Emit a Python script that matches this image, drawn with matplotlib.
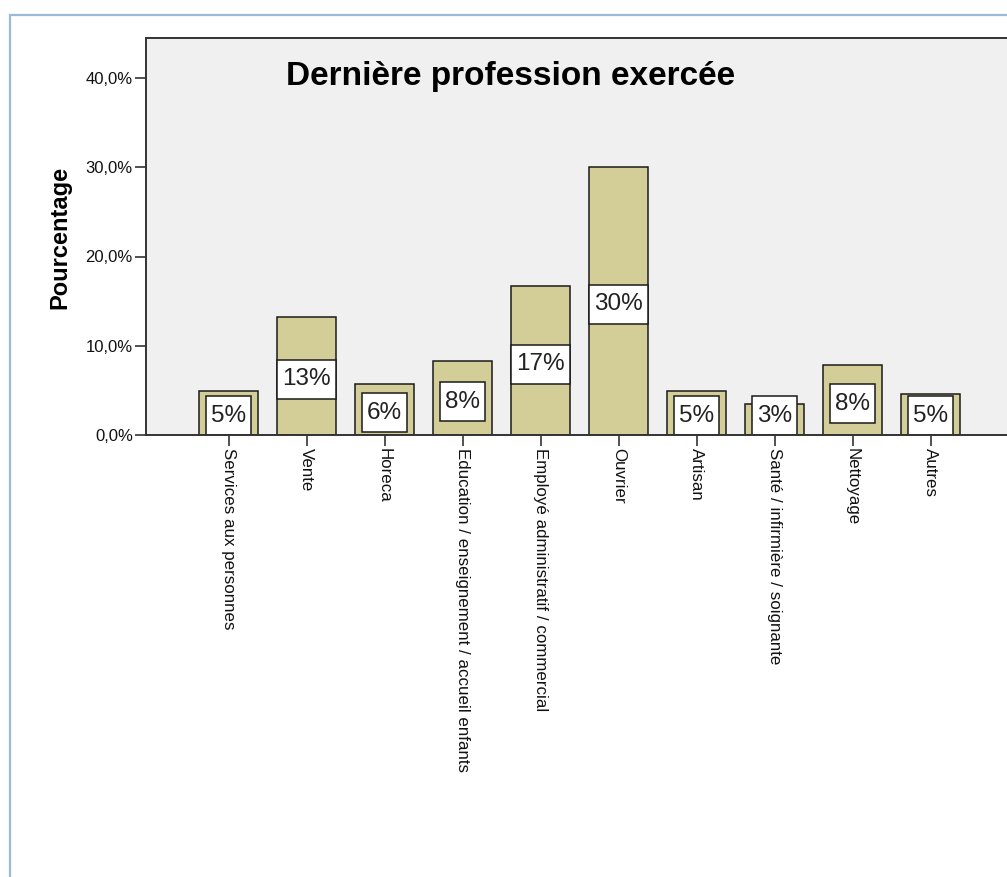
"""
Bar chart of the last occupation held, shown as percentages with boxed value labels.
"""

import matplotlib.pyplot as plt
from matplotlib.patches import Rectangle
from matplotlib.ticker import FuncFormatter

# Categories and percentages
categories = [
    "Services aux personnes",
    "Vente",
    "Horeca",
    "Education / enseignement / accueil enfants",
    "Employé administratif / commercial",
    "Ouvrier",
    "Artisan",
    "Santé / infirmière / soignante",
    "Nettoyage",
    "Autres",
]
percentages = [4.9, 13.25, 5.75, 8.3, 16.7, 30.05, 4.9, 3.45, 7.8, 4.6]
y_ticks = [0, 10, 20, 30, 40]

BAR_COLOR = "#D3CE97"
PANEL_COLOR = "#F0F0F0"
EDGE = "#1a1a1a"
FONT = "Liberation Sans"

W, H = 1007, 877


def plot_profession_bars(dest_path: str = "out.png"):
    fig = plt.figure(figsize=(W / 100, H / 100), dpi=100)
    fig.patch.set_facecolor("white")

    # Outer light-blue frame, open on the right and bottom
    fig.patches.append(
        Rectangle(
            (10 / W, -0.05), 1.1, 1 - 15 / H + 0.05,
            transform=fig.transFigure, fill=False,
            edgecolor="#9DB9D8", linewidth=1.6, zorder=0,
        )
    )

    # Plot area runs past the right edge of the figure
    left, right, top, bottom = 146, 1040, 38, 435
    ax = fig.add_axes(
        [left / W, 1 - bottom / H, (right - left) / W, (bottom - top) / H]
    )
    ax.set_facecolor(PANEL_COLOR)

    x = list(range(len(categories)))
    ax.bar(
        x, percentages, width=0.756, color=BAR_COLOR,
        edgecolor=EDGE, linewidth=1.1, zorder=2,
    )

    ax.set_xlim((left - 228.5) / 78, (right - 228.5) / 78)
    ax.set_ylim(0, (bottom - top) / 89.25 * 10)

    # Value labels, kept above the baseline for short bars
    texts = []
    for xi, v in zip(x, percentages):
        y = max(v / 2 - 0.4, 2.15)
        t = ax.text(
            xi, y, f"{v:.0f}%", ha="center", va="center",
            fontsize=17.5, family=FONT, color="#222222", zorder=4,
        )
        texts.append(t)

    # White boxes behind the labels, sized from the rendered text
    fig.canvas.draw()
    renderer = fig.canvas.get_renderer()
    inv = ax.transData.inverted()
    for t in texts:
        bb = t.get_window_extent(renderer)
        cx, cy = (bb.x0 + bb.x1) / 2, (bb.y0 + bb.y1) / 2
        half_w, half_h = bb.width / 2 + 5, 19.5
        (x0, y0), (x1, y1) = inv.transform(
            [(cx - half_w, cy - half_h), (cx + half_w, cy + half_h)]
        )
        ax.add_patch(
            Rectangle((x0, y0), x1 - x0, y1 - y0, facecolor="white",
                      edgecolor=EDGE, linewidth=1.1, zorder=3)
        )

    ax.set_yticks(y_ticks)
    ax.yaxis.set_major_formatter(
        FuncFormatter(lambda v, _: f"{v:.1f}%".replace(".", ","))
    )
    ax.set_xticks(x)
    ax.set_xticklabels(categories, rotation=-90, va="top", ha="center")

    for lab in ax.get_yticklabels():
        lab.set_family(FONT)
        lab.set_fontsize(12)
        lab.set_color("#111111")
    for lab in ax.get_xticklabels():
        lab.set_family(FONT)
        lab.set_fontsize(12.2)
        lab.set_color("#111111")

    ax.tick_params(axis="both", direction="out", length=8, width=1.2,
                   color="#333333", pad=1.5)

    for side in ["left", "top", "bottom"]:
        ax.spines[side].set_color("#333333")
        ax.spines[side].set_linewidth(1.4)
    ax.spines["right"].set_visible(False)
    ax.spines["bottom"].set_zorder(5)

    fig.text(286 / W, 1 - 76 / H, "Dernière profession exercée",
             ha="left", va="center", fontsize=24, fontweight="bold",
             family=FONT, color="black")
    fig.text(60 / W, 1 - 237 / H, "Pourcentage", rotation=90,
             ha="center", va="center", fontsize=17, fontweight="bold",
             family=FONT, color="black")

    fig.savefig(dest_path, dpi=100)
    plt.close(fig)


if __name__ == "__main__":
    plot_profession_bars()
